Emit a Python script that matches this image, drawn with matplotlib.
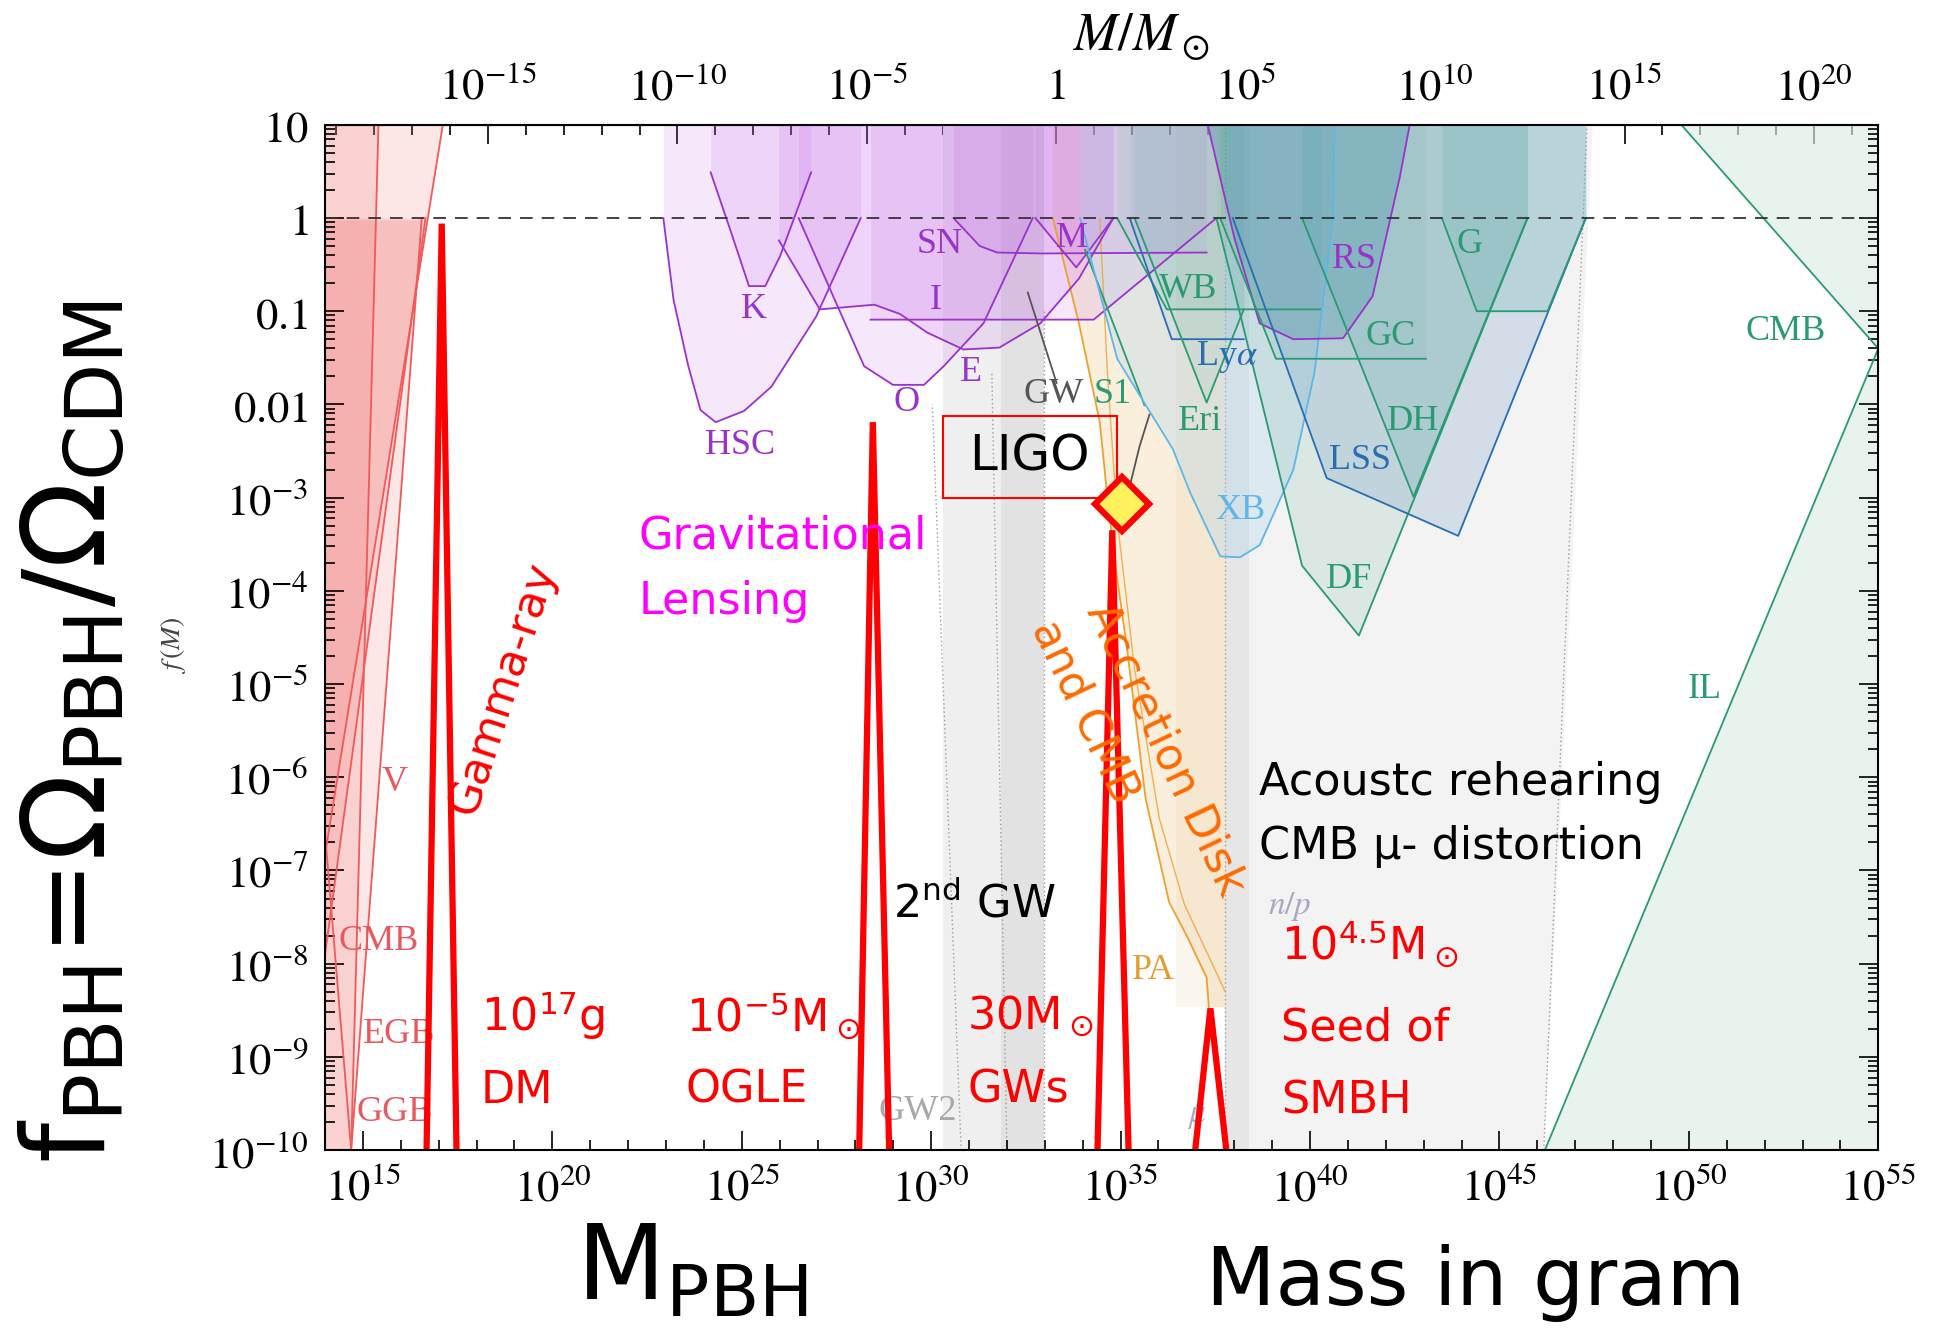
import numpy as np
import matplotlib
matplotlib.use("Agg")
import matplotlib.pyplot as plt
from matplotlib.ticker import FixedLocator, FixedFormatter, LogLocator, NullFormatter
from matplotlib.patches import Rectangle

plt.rcParams['mathtext.fontset'] = 'stix'
plt.rcParams['font.family'] = ['DejaVu Sans']

MSUN = 2e33  # gram per solar mass

# ---- all values are log10(M / g) and log10(f) ----

# monochromatic mass spectra (thick red spikes)
peak_left = [16.68, 28.10, 34.39, 36.97]
peak_mid = [17.08, 28.46, 34.78, 37.37]
peak_right = [17.47, 28.89, 35.21, 37.79]
peak_top = [-0.06, -2.19, -3.35, -8.48]

# evaporation constraints (red, left)
v_m, v_f = [14.0, 17.11], [-6.83, 1.0]
cmbe_m, cmbe_f = [14.0, 16.65], [-7.9, 0.0]
egb_m, egb_f = [14.69, 16.55], [-10.0, -0.02]
ggb_m, ggb_f = [14.69, 15.41], [-10.0, 1.0]
low_m, low_f = [14.0, 14.69], [-6.6, -10.0]

# lensing (purple)
hsc_m = [22.93, 23.20, 23.59, 23.91, 24.31, 25.06, 25.78, 26.96, 28.14]
hsc_f = [0.0, -0.88, -1.59, -2.06, -2.19, -2.07, -1.81, -1.06, 0.0]
k_m = [24.18, 24.74, 25.19, 25.62, 26.01, 26.83]
k_f = [0.49, -0.18, -0.73, -0.73, -0.41, 0.49]
e_m = [25.98, 27.06, 28.50, 29.18, 29.90, 30.85, 31.80, 32.88, 33.90, 34.81]
e_f = [-0.24, -0.98, -0.93, -1.03, -1.23, -1.41, -1.39, -1.13, -0.65, 0.0]
o_m = [26.50, 28.23, 28.99, 29.81, 30.33, 31.38, 32.68]
o_f = [0.0, -1.59, -1.79, -1.79, -1.59, -1.13, 0.0]
i_m, i_f = [28.40, 34.29, 37.53], [-1.09, -1.09, 0.0]
sn_m = [30.59, 31.28, 31.74, 32.91, 37.27]
sn_f = [0.0, -0.30, -0.37, -0.38, -0.37]
m_m, m_f = [32.75, 33.83, 34.81], [0.0, -0.53, 0.0]

# gravitational waves / LIGO
gw_m, gw_f = [32.55, 33.31], [-0.80, -1.77]
ligo_line_m, ligo_line_f = [35.24, 35.50, 35.76], [-2.88, -2.45, -2.11]
ligo_m, ligo_f = 35.04, -3.07
ligo_box_m, ligo_box_f = [30.30, 34.91], [-3.0, -2.125]

# accretion (orange)
pa_m = [33.21, 33.90, 34.45, 34.65, 34.88, 35.17, 35.66, 36.28, 36.77, 37.27, 37.33]
pa_f = [0.0, -1.13, -2.19, -2.99, -3.78, -4.62, -6.23, -7.34, -7.72, -8.15, -8.47]
pa2_m = [34.45, 34.65, 34.91, 35.37, 36.02, 36.68, 37.76]
pa2_f = [0.0, -1.65, -3.24, -4.84, -6.44, -7.36, -8.30]
pa_edge = 37.76

# dynamical constraints
wb_m, wb_f = [34.91, 36.22, 40.28], [0.0, -0.98, -0.98]
lya_m, lya_f = [35.24, 36.35, 38.25], [0.0, -1.30, -1.30]
eri_m, eri_f = [35.37, 37.27, 38.25], [0.0, -1.98, -0.98]
s1_m, s1_f = [34.06, 35.63], [-0.34, -2.01]
xb_m = [33.93, 34.91, 36.38, 36.84, 37.63, 38.15, 38.67, 39.56, 40.12, 40.60, 40.65]
xb_f = [0.0, -1.51, -2.48, -2.95, -3.63, -3.64, -3.51, -2.70, -1.65, 0.0, 1.0]
rs_m = [37.30, 38.00, 38.67, 39.56, 40.87, 41.65, 42.37, 42.63]
rs_f = [1.0, -0.21, -1.13, -1.30, -1.29, -0.84, 0.44, 1.0]
gc_m, gc_f = [37.63, 39.10, 43.06], [0.0, -1.51, -1.51]
dh_m, dh_f = [39.79, 42.73, 45.74], [0.0, -2.99, 0.0]
df_m, df_f = [37.53, 39.79, 41.29, 45.74], [0.0, -3.73, -4.48, 0.0]
lss_m, lss_f = [37.96, 40.44, 43.91, 47.28], [0.0, -2.79, -3.41, 0.0]
g_m, g_f = [43.48, 44.40, 46.27, 47.28], [0.0, -1.0, -1.0, 0.0]
cmbr_m, cmbr_f = [49.80, 55.0], [1.0, -1.40]
il_m, il_f = [46.20, 55.0], [-10.0, -1.40]

# gray bands (GW2, mu-distortion, n/p ...)
band_lo = [30.30, 31.83, 37.76]
band_hi = [31.83, 32.98, 38.38]
band_col = ['#efefef', '#e2e2e2', '#e6e6e6']
mu_lo, mu_hi_bottom, mu_hi_top = 38.38, 46.17, 47.45
dotted_bot = [30.79, 32.00, 32.98, 37.76, 46.17]
dotted_top_m = [30.03, 31.60, 32.98, 37.76, 47.31]
dotted_top_f = [-2.0, -1.65, -1.0, 1.0, 1.0]

# tick labels
xb_ticks = [15, 20, 25, 30, 35, 40, 45, 50, 55]
xt_ticks = [-15, -10, -5, 0, 5, 10, 15, 20]
xt_labels = ['$10^{-15}$', '$10^{-10}$', '$10^{-5}$', '$1$', '$10^{5}$',
             '$10^{10}$', '$10^{15}$', '$10^{20}$']
y_ticks = list(range(-10, 2))
y_labels = ['$10^{-10}$', '$10^{-9}$', '$10^{-8}$', '$10^{-7}$', '$10^{-6}$',
            '$10^{-5}$', '$10^{-4}$', '$10^{-3}$', '$0.01$', '$0.1$', '$1$', '$10$']


def P(a):
    return 10.0 ** np.asarray(a, dtype=float)


fig = plt.figure(figsize=(19.44, 13.28), dpi=100)
ax = fig.add_axes([0.1672, 0.134, 0.799, 0.772])
ax.set_xscale('log')
ax.set_yscale('log')
ax.set_xlim(1e14, 1e55)
ax.set_ylim(1e-10, 10)

# gray bands
for lo, hi, c in zip(band_lo, band_hi, band_col):
    ax.axvspan(P(lo), P(hi), color=c, lw=0, zorder=0.2)
ax.fill_betweenx(P([-10, 1]), P(mu_lo), P([mu_hi_bottom, mu_hi_top]),
                 color='#f3f3f3', lw=0, zorder=0.2)
for b, tm, tf in zip(dotted_bot, dotted_top_m, dotted_top_f):
    ax.plot(P([b, tm]), P([-10, tf]), color='#9a9a9a', lw=1.0, ls=(0, (1, 2)), zorder=0.4)

# evaporation
red_fill = '#f26b6b'
for mm, ff in [(v_m, v_f), (cmbe_m, cmbe_f), (egb_m, egb_f), (ggb_m, ggb_f)]:
    ax.fill_betweenx(P(ff), 1e14, P(mm), color=red_fill, alpha=0.17, lw=0, zorder=0.5)
for mm, ff in [(v_m, v_f), (cmbe_m, cmbe_f), (egb_m, egb_f), (ggb_m, ggb_f), (low_m, low_f)]:
    ax.plot(P(mm), P(ff), color='#f05a5a', lw=1.3, zorder=2)


def above(mm, ff, color, alpha, z=0.6):
    ax.fill_between(P(mm), P(ff), 10, color=color, alpha=alpha, lw=0, zorder=z)


# orange accretion region
ax.fill(P(pa_m + [pa_edge, pa_edge, pa_m[0]]), P(pa_f + [pa_f[-1], 1, 1]),
        color='#f2d2a0', alpha=0.35, lw=0, zorder=0.5)
ax.axvspan(P(36.45), P(pa_edge), ymin=(pa_f[-1] + 10) / 11, color='#d9b27a',
           alpha=0.13, lw=0, zorder=0.5)
ax.plot(P(pa_m), P(pa_f), color='#eba232', lw=1.3, zorder=2)
ax.plot(P(pa2_m), P(pa2_f), color='#eba232', lw=1.0, alpha=0.8, zorder=2)

# lensing
pur = '#c060e8'
for mm, ff in [(hsc_m, hsc_f), (k_m, k_f), (e_m, e_f), (o_m, o_f), (i_m, i_f),
               (sn_m, sn_f), (m_m, m_f)]:
    above(mm, ff, pur, 0.14)
    ax.plot(P(mm), P(ff), color='#9933cc', lw=1.3, zorder=2)

# dynamical / other
grn, blu, lbl = '#2a9a72', '#2a6db2', '#5fb6e8'
above(wb_m, wb_f, grn, 0.10)
above(lya_m, lya_f, blu, 0.07)
above(eri_m, eri_f, grn, 0.10)
above(xb_m, xb_f, '#a8d4ee', 0.30)
above(rs_m, rs_f, '#3f86a8', 0.33)
above(gc_m, gc_f, grn, 0.10)
above(df_m, df_f, '#4f9e86', 0.14)
above(dh_m, dh_f, '#2f9a86', 0.16)
above(lss_m, lss_f, '#7ea6cc', 0.28)
above(g_m, g_f, '#4aa8a0', 0.18)
ax.fill(P(cmbr_m + [il_m[0], 55, 55]), P(cmbr_f + [il_f[0], -10, 1]),
        color='#dcede5', alpha=0.65, lw=0, zorder=0.5)

for mm, ff, c in [(wb_m, wb_f, grn), (lya_m, lya_f, blu), (eri_m, eri_f, grn),
                  (s1_m, s1_f, grn), (xb_m, xb_f, lbl), (rs_m, rs_f, '#9933cc'),
                  (gc_m, gc_f, grn), (dh_m, dh_f, grn), (df_m, df_f, grn),
                  (lss_m, lss_f, blu), (g_m, g_f, grn), (cmbr_m, cmbr_f, grn),
                  (il_m, il_f, grn)]:
    ax.plot(P(mm), P(ff), color=c, lw=1.3, zorder=2)

ax.plot(P(gw_m), P(gw_f), color='#555555', lw=1.3, zorder=2)
ax.plot(P(ligo_line_m), P(ligo_line_f), color='#555555', lw=1.3, zorder=2)

# f = 1 line
ax.axhline(1, color='#333333', lw=1.3, ls=(0, (7, 5)), zorder=3)

# spikes
for l, p, r, t in zip(peak_left, peak_mid, peak_right, peak_top):
    ax.plot(P([l, p, r]), P([-10, t, -10]), color='red', lw=4.5, zorder=6,
            solid_joinstyle='miter', clip_on=True)

# LIGO box and marker
ax.add_patch(Rectangle((P(ligo_box_m[0]), P(ligo_box_f[0])),
                       P(ligo_box_m[1]) - P(ligo_box_m[0]),
                       P(ligo_box_f[1]) - P(ligo_box_f[0]),
                       fill=False, ec='red', lw=1.5, zorder=7))
ax.text(P(np.mean(ligo_box_m)), P(np.mean(ligo_box_f)), 'LIGO', fontsize=36,
        ha='center', va='center', color='black', zorder=7)
ax.plot(P(ligo_m), P(ligo_f), marker='D', ms=28, mfc='#fff15c', mec='red',
        mew=4.5, zorder=8)

# constraint labels (serif)
serif_labels = [
    ('V', 15.83, -6.06, '#e8595f'), ('CMB', 15.41, -7.76, '#e8595f'),
    ('EGB', 15.96, -8.76, '#e8595f'), ('GGB', 15.83, -9.60, '#e8595f'),
    ('HSC', 24.96, -2.44, '#9933cc'), ('K', 25.32, -0.98, '#9933cc'),
    ('O', 29.35, -1.98, '#9933cc'), ('E', 31.05, -1.66, '#9933cc'),
    ('I', 30.13, -0.89, '#9933cc'), ('SN', 30.23, -0.28, '#9933cc'),
    ('M', 33.73, -0.22, '#9933cc'), ('GW', 33.24, -1.89, '#555555'),
    ('S1', 34.78, -1.89, grn), ('WB', 36.77, -0.77, grn),
    (r'Ly$\alpha$', 37.82, -1.49, blu), ('Eri', 37.10, -2.18, grn),
    ('XB', 38.15, -3.14, lbl), ('RS', 41.16, -0.45, '#9933cc'),
    ('GC', 42.14, -1.27, grn), ('G', 44.20, -0.28, grn),
    ('DH', 42.73, -2.18, grn), ('LSS', 41.32, -2.60, blu),
    ('DF', 41.03, -3.88, grn), ('CMB', 52.55, -1.22, grn),
    ('IL', 50.42, -5.06, grn), ('GW2', 29.64, -9.59, '#a8a8a8'),
    ('PA', 35.86, -8.07, '#e0a030'),
]
for s, xm, yf, c in serif_labels:
    ax.text(P(xm), P(yf), s, fontsize=26, color=c, ha='center', va='center',
            family='Liberation Serif', zorder=4)
ax.text(P(37.0), P(-9.62), r'$\mu$', fontsize=24, color='#a8a8c0', ha='center',
        va='center', zorder=4)
ax.text(P(39.46), P(-7.39), r'$n/p$', fontsize=24, color='#a8a8c0', ha='center',
        va='center', zorder=4)

# hand annotations
mf = 'dejavusans'
ax.text(P(18.68), P(-5.04), 'Gamma-ray', fontsize=32, color='red', rotation=72,
        ha='center', va='center', rotation_mode='anchor', zorder=7)
ax.text(P(22.28), P(-3.41), 'Gravitational', fontsize=32, color='#ff00ff',
        ha='left', va='center', zorder=7)
ax.text(P(22.28), P(-4.11), 'Lensing', fontsize=32, color='#ff00ff',
        ha='left', va='center', zorder=7)
ax.text(P(36.19), P(-5.70), 'Accretion Disk', fontsize=32, color='#ff6a00',
        rotation=-64.7, ha='center', va='center', rotation_mode='anchor', zorder=7)
ax.text(P(34.06), P(-5.30), 'and CMB', fontsize=32, color='#ff6a00',
        rotation=-64.7, ha='center', va='center', rotation_mode='anchor', zorder=7)
ax.text(P(38.64), P(-6.06), 'Acoustc rehearing', fontsize=32, color='black',
        ha='left', va='center', zorder=7)
ax.text(P(38.64), P(-6.74), 'CMB μ- distortion', fontsize=32, color='black',
        ha='left', va='center', zorder=7)
ax.text(P(28.99), P(-7.36), r'2$^{\rm nd}$ GW', fontsize=32, color='black',
        ha='left', va='center', math_fontfamily=mf, zorder=7)

red_notes = [
    (18.12, -8.56, r'10$^{17}$g'), (18.12, -9.36, 'DM'),
    (23.52, -8.56, r'10$^{-5}$M$_\odot$'), (23.52, -9.36, 'OGLE'),
    (30.95, -8.56, r'30M$_\odot$'), (30.95, -9.36, 'GWs'),
    (39.23, -7.79, r'10$^{4.5}$M$_\odot$'), (39.23, -8.69, 'Seed of'),
    (39.23, -9.47, 'SMBH'),
]
for xm, yf, s in red_notes:
    ax.text(P(xm), P(yf), s, fontsize=32, color='red', ha='left', va='center',
            math_fontfamily=mf, zorder=7)

# axes, ticks
ax.xaxis.set_major_locator(FixedLocator(P(xb_ticks)))
ax.xaxis.set_major_formatter(FixedFormatter(['$10^{%d}$' % k for k in xb_ticks]))
ax.xaxis.set_minor_locator(FixedLocator(P([k for k in range(14, 56) if k % 5])))
ax.xaxis.set_minor_formatter(NullFormatter())
ax.yaxis.set_major_locator(FixedLocator(P(y_ticks)))
ax.yaxis.set_major_formatter(FixedFormatter(y_labels))
ax.yaxis.set_minor_locator(LogLocator(base=10, subs=np.arange(2, 10), numticks=50))
ax.yaxis.set_minor_formatter(NullFormatter())
ax.tick_params(which='both', direction='in', top=False, right=True, width=1.2,
               color='black')
ax.tick_params(which='major', length=14, labelsize=32, pad=12)
ax.tick_params(which='minor', length=7)
for sp in ax.spines.values():
    sp.set_linewidth(1.5)
    sp.set_zorder(10)

sec = ax.secondary_xaxis('top', functions=(lambda m: m / MSUN, lambda m: m * MSUN))
sec.xaxis.set_major_locator(FixedLocator(P(xt_ticks)))
sec.xaxis.set_major_formatter(FixedFormatter(xt_labels))
sec.xaxis.set_minor_locator(FixedLocator(P([k for k in range(-19, 23) if k % 5])))
sec.xaxis.set_minor_formatter(NullFormatter())
sec.tick_params(which='both', direction='in', width=1.2)
sec.tick_params(which='major', length=14, labelsize=32, pad=12)
sec.tick_params(which='minor', length=7)

# big labels
fig.text(0.587, 0.972, r'$M/M_\odot$', fontsize=38, ha='center', va='center')
fig.text(0.089, 0.514, r'$f\,(M)$', fontsize=20, color='#444444', rotation=90,
         ha='center', va='center')
fig.text(0.038, 0.449, r'f$_{\rm PBH}$=Ω$_{\rm PBH}$/Ω$_{\rm CDM}$', fontsize=82,
         rotation=90, ha='center', va='center', math_fontfamily=mf)
fig.text(0.356, 0.043, r'M$_{\rm PBH}$', fontsize=74, ha='center', va='center',
         math_fontfamily=mf)
fig.text(0.759, 0.034, 'Mass in gram', fontsize=58, ha='center', va='center')

fig.savefig('out.png', dpi=100)
